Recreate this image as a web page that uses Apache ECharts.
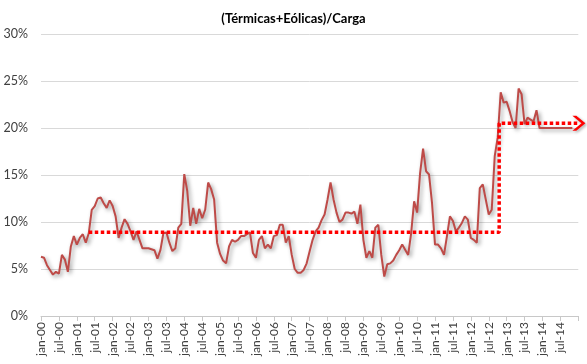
<!DOCTYPE html>
<html>
<head>
<meta charset="utf-8">
<script src="https://cdn.jsdelivr.net/npm/echarts@6/dist/echarts.min.js"></script>
<style>
html,body{margin:0;padding:0;background:#fff;}
#chart{width:587px;height:364px;}
</style>
</head>
<body>
<div id="chart"></div>
<script>
// Tick labels every 6 months
const tickLabels = ['jan-00','jul-00','jan-01','jul-01','jan-02','jul-02','jan-03','jul-03','jan-04','jul-04',
  'jan-05','jul-05','jan-06','jul-06','jan-07','jul-07','jan-08','jul-08','jan-09','jul-09',
  'jan-10','jul-10','jan-11','jul-11','jan-12','jul-12','jan-13','jul-13','jan-14','jul-14'];

// Monthly share (%), starting jan-00
const values = [
  6.3, 6.2, 5.4, 4.9, 4.4, 4.7, 4.5, 6.5, 6.0, 4.7,
  7.4, 8.5, 7.6, 8.3, 8.7, 7.8, 8.8, 11.3, 11.7, 12.5,
  12.6, 12.0, 11.5, 12.3, 11.7, 10.6, 8.3, 9.4, 10.3, 9.8,
  9.0, 8.1, 9.0, 8.1, 7.2, 7.2, 7.2, 7.1, 7.0, 6.1,
  7.0, 8.8, 8.9, 7.8, 6.9, 7.2, 9.4, 9.8, 15.1, 13.3,
  9.6, 11.5, 9.8, 11.4, 10.4, 11.3, 14.2, 13.5, 12.4, 7.8,
  6.6, 5.9, 5.6, 7.4, 8.1, 7.9, 8.1, 8.5, 8.5, 8.7,
  8.9, 6.7, 6.2, 8.1, 8.5, 7.2, 7.6, 7.2, 8.5, 8.6,
  9.7, 9.7, 7.8, 8.5, 6.5, 5.0, 4.6, 4.6, 4.9, 5.6,
  6.9, 8.1, 9.0, 9.4, 10.2, 10.8, 12.4, 14.2, 12.4, 11.0,
  10.0, 10.25, 11.0, 11.0, 10.9, 11.1, 9.8, 11.85, 8.1, 6.2,
  6.9, 6.2, 9.4, 9.7, 6.5, 4.2, 5.5, 5.6, 5.9, 6.5,
  7.0, 7.6, 7.05, 6.5, 8.8, 12.2, 11.0, 15.2, 17.8, 15.4,
  15.05, 12.0, 7.6, 7.6, 7.2, 6.5, 8.5, 10.6, 10.1, 9.0,
  9.4, 9.9, 10.6, 10.25, 8.3, 8.1, 7.8, 13.6, 14.0, 12.4,
  10.8, 11.3, 17.0, 19.0, 23.8, 22.7, 22.8, 21.8, 20.6, 20.0,
  24.2, 23.6, 20.4, 21.1, 20.9, 20.7, 21.9, 20.0, 20.0, 20.0,
  20.0, 20.0, 20.0, 20.0, 20.0, 20.0, 20.0, 20.0, 20.0
];

// Dotted step (average levels): month index and level (%)
const stepMonths = [16, 153.5, 153.5, 180.2];
const stepLevels = [8.9, 8.9, 20.5, 20.5];

const chevron = 'path://M0,0 L3.6,0 L12,7 L3.6,14 L0,14 L8.4,7 Z';

const chart = echarts.init(document.getElementById('chart'), null, {renderer: 'canvas'});
const lastIdx = stepMonths.length - 1;

chart.setOption({
  animation: false,
  backgroundColor: '#ffffff',
  title: {
    text: '(Térmicas+Eólicas)/Carga',
    left: 'center',
    top: 7,
    textStyle: {fontFamily: 'Lato', fontWeight: 'bold', fontSize: 13, color: '#000'}
  },
  grid: {left: 41, right: 8.7, top: 34, bottom: 48, containLabel: false},
  xAxis: {
    type: 'value',
    min: 0,
    max: 180,
    interval: 6,
    axisLine: {show: true, lineStyle: {color: '#c8c8c8', width: 1}},
    axisTick: {show: true, length: 5, lineStyle: {color: '#c8c8c8'}},
    splitLine: {show: false},
    axisLabel: {
      rotate: 90,
      margin: 6,
      fontFamily: 'Lato',
      fontSize: 12,
      color: '#404040',
      formatter: function (v) { const k = Math.round(v / 6); return tickLabels[k] !== undefined ? tickLabels[k] : ''; }
    }
  },
  yAxis: {
    type: 'value',
    min: 0,
    max: 30,
    interval: 5,
    axisLine: {show: false},
    axisTick: {show: false},
    splitLine: {show: true, lineStyle: {color: '#d9d9d9', width: 1}},
    axisLabel: {
      margin: 13,
      fontFamily: 'Lato',
      fontSize: 12.5,
      color: '#404040',
      formatter: '{value}%'
    }
  },
  series: [
    {
      type: 'line',
      data: values.map((v, i) => [i, v]),
      symbol: 'none',
      z: 3,
      lineStyle: {
        color: '#BE4B48', width: 2,
        shadowColor: 'rgba(0,0,0,0.4)', shadowBlur: 4, shadowOffsetX: 2, shadowOffsetY: 2
      }
    },
    {
      type: 'line',
      clip: false,
      z: 4,
      showSymbol: true,
      symbol: 'none',
      data: stepMonths.map((m, i) => (
        i === lastIdx
          ? {value: [m, stepLevels[i]], symbol: chevron, symbolSize: [13, 15], symbolKeepAspect: false}
          : {value: [m, stepLevels[i]], symbol: 'none'}
      )),
      itemStyle: {color: '#FF0000', shadowColor: 'rgba(0,0,0,0.35)', shadowBlur: 3, shadowOffsetX: 1.5, shadowOffsetY: 1.5},
      lineStyle: {color: '#FF0000', width: 3.5, type: [3.5, 2.5], cap: 'butt'}
    }
  ]
});
</script>
</body>
</html>
